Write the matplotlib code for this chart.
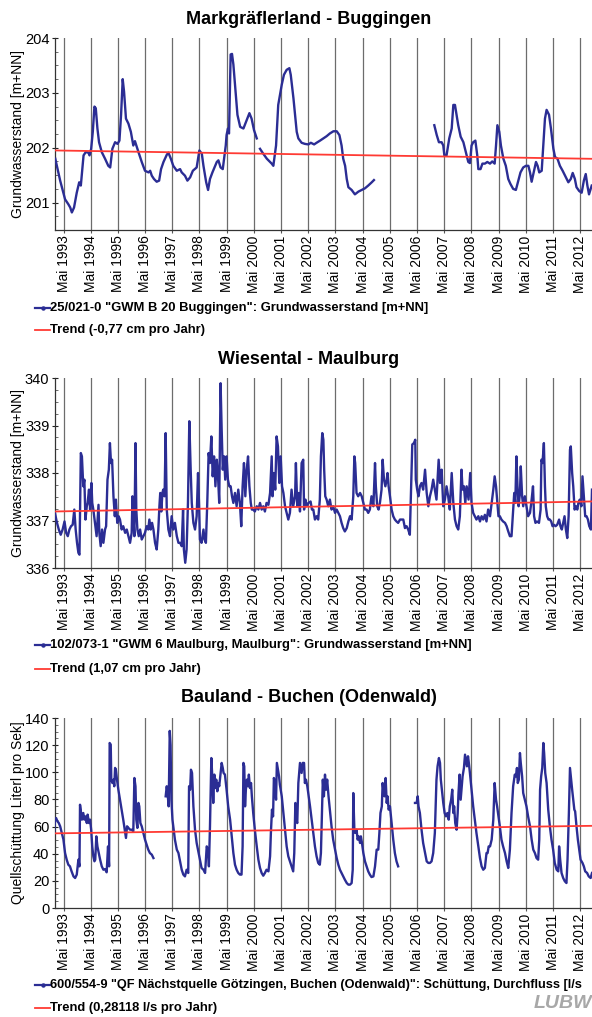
import numpy as np
import matplotlib
matplotlib.use("Agg")
import matplotlib.pyplot as plt
from matplotlib.lines import Line2D
from matplotlib.ticker import MultipleLocator

plt.rcParams['font.family'] = ['Liberation Sans', 'DejaVu Sans']

nan = np.nan

# ---------------- Data: Markgräflerland - Buggingen ----------------
bug_t = [1993.03, 1993.21, 1993.39, 1993.51, 1993.58, 1993.64, 1993.72, 1993.82, 1993.91, 1993.97,
         1994.07, 1994.15, 1994.25, 1994.29, 1994.35, 1994.41, 1994.47, 1994.52, 1994.58, 1994.64,
         1994.74, 1994.86, 1994.98, 1995.05, 1995.13, 1995.23, 1995.32, 1995.39, 1995.45, 1995.51,
         1995.56, 1995.63, 1995.72, 1995.81, 1995.90, 1995.96, 1996.03, 1996.09, 1996.21, 1996.33,
         1996.46, 1996.52, 1996.58, 1996.66, 1996.76, 1996.85, 1996.92, 1997.01, 1997.13, 1997.19,
         1997.28, 1997.37, 1997.50, 1997.62, 1997.68, 1997.80, 1997.89, 1997.99, 1998.09, 1998.23,
         1998.33, 1998.42, 1998.48, 1998.58, 1998.65, 1998.72, 1998.81, 1998.91, 1998.97, 1999.03,
         1999.11, 1999.19, 1999.24, 1999.30, 1999.33, 1999.38, 1999.42, 1999.48, 1999.53, 1999.58,
         1999.64, 1999.73, 1999.83, 1999.95, 2000.07, 2000.17, 2000.25, 2000.34, 2000.44, 2000.50,
         2000.56, 2000.68, 2000.81, 2000.99, 2001.05, 2001.15, 2001.23, 2001.36, 2001.44, 2001.54,
         2001.64, 2001.69, 2001.79, 2001.91, 2001.97, 2002.09, 2002.21, 2002.34, 2002.43, 2002.55,
         2002.64, 2002.77, 2002.89, 2003.01, 2003.13, 2003.26, 2003.38, 2003.48, 2003.56, 2003.62,
         2003.69, 2003.75, 2003.81, 2003.93, 2004.05, 2004.18, 2004.30, 2004.42, 2004.54, 2004.67,
         2004.75, 2005.80,
         2006.97, 2007.06, 2007.14, 2007.24, 2007.30, 2007.34, 2007.42, 2007.52, 2007.61, 2007.67,
         2007.73, 2007.79, 2007.85, 2007.94, 2008.04, 2008.13, 2008.22, 2008.28, 2008.34, 2008.40,
         2008.48, 2008.55, 2008.59, 2008.67, 2008.74, 2008.83, 2008.92, 2009.02, 2009.10, 2009.19,
         2009.24, 2009.29, 2009.36, 2009.42, 2009.51, 2009.60, 2009.69, 2009.77, 2009.87, 2009.97,
         2010.06, 2010.14, 2010.24, 2010.34, 2010.43, 2010.49, 2010.55, 2010.64, 2010.71, 2010.77,
         2010.83, 2010.92, 2010.98, 2011.04, 2011.10, 2011.19, 2011.26, 2011.35, 2011.41, 2011.50,
         2011.59, 2011.69, 2011.78, 2011.90, 2011.99, 2012.06, 2012.14, 2012.20, 2012.30, 2012.39,
         2012.47, 2012.54, 2012.60, 2012.66, 2012.76]
bug_v = [201.80, 201.40, 201.06, 200.97, 200.91, 200.82, 200.91, 201.18, 201.37, 201.31,
         201.86, 201.92, 201.91, 201.86, 201.98, 202.29, 202.75, 202.72, 202.35, 202.10,
         201.92, 201.80, 201.67, 201.64, 201.98, 202.10, 202.07, 202.13, 202.60, 203.25,
         203.02, 202.53, 202.44, 202.29, 202.04, 202.12, 202.01, 201.92, 201.74, 201.58,
         201.55, 201.58, 201.49, 201.43, 201.38, 201.40, 201.61, 201.74, 201.87, 201.91,
         201.80, 201.67, 201.58, 201.61, 201.55, 201.49, 201.40, 201.46, 201.58, 201.64,
         201.95, 201.89, 201.67, 201.37, 201.23, 201.43, 201.55, 201.67, 201.74, 201.77,
         201.64, 201.61, 201.80, 202.04, 202.23, 202.35, 202.26, 203.70, 203.71, 203.52,
         203.15, 202.60, 202.38, 202.35, 202.50, 202.63, 202.53, 202.32, 202.17, nan,
         201.98, 201.89, 201.80, 201.71, 201.67, 202.04, 202.78, 203.15, 203.33, 203.42,
         203.45, 203.33, 202.90, 202.29, 202.17, 202.09, 202.07, 202.06, 202.09, 202.06,
         202.09, 202.13, 202.17, 202.21, 202.26, 202.30, 202.30, 202.23, 202.04, 201.80,
         201.67, 201.43, 201.28, 201.23, 201.15, 201.20, 201.23, 201.26, 201.31, 201.37,
         201.41, nan,
         202.41, 202.23, 202.10, 202.10, 202.04, 201.86, 201.86, 202.17, 202.35, 202.78,
         202.78, 202.60, 202.41, 202.20, 202.10, 201.92, 201.74, 201.72, 202.04, 202.10,
         202.13, 201.86, 201.61, 201.61, 201.71, 201.71, 201.74, 201.71, 201.75, 201.71,
         202.04, 202.41, 202.29, 202.04, 201.80, 201.67, 201.43, 201.34, 201.25, 201.23,
         201.40, 201.55, 201.64, 201.67, 201.67, 201.55, 201.38, 201.58, 201.74, 201.67,
         201.55, 201.58, 202.04, 202.53, 202.69, 202.60, 202.35, 201.98, 201.83, 201.80,
         201.67, 201.58, 201.49, 201.37, 201.43, 201.54, 201.43, 201.28, 201.21, 201.18,
         201.40, 201.52, 201.31, 201.15, 201.31]

# ---------------- Data: Wiesental - Maulburg ----------------
mau_t = [1993.02, 1993.08, 1993.16, 1993.23, 1993.30, 1993.37, 1993.43, 1993.49, 1993.55, 1993.61,
         1993.67, 1993.73, 1993.78, 1993.83, 1993.88, 1993.92, 1993.97, 1994.01, 1994.06, 1994.10,
         1994.14, 1994.19, 1994.22, 1994.27, 1994.31, 1994.36, 1994.39, 1994.43, 1994.49, 1994.55,
         1994.62, 1994.65, 1994.70, 1994.75, 1994.80, 1994.86, 1994.90, 1994.95, 1995.00, 1995.04,
         1995.08, 1995.12, 1995.17, 1995.22, 1995.26, 1995.31, 1995.36, 1995.41, 1995.47, 1995.53,
         1995.60, 1995.66, 1995.72, 1995.78, 1995.84, 1995.87, 1995.90, 1995.94, 1995.98, 1996.01,
         1996.05, 1996.10, 1996.15, 1996.21, 1996.27, 1996.33, 1996.39, 1996.45, 1996.49, 1996.54,
         1996.59, 1996.64, 1996.70, 1996.76, 1996.82, 1996.86, 1996.89, 1996.93, 1996.97, 1997.00,
         1997.05, 1997.09, 1997.13, 1997.19, 1997.25, 1997.31, 1997.37, 1997.43, 1997.50, 1997.56,
         1997.62, 1997.68, 1997.73, 1997.76, 1997.81, 1997.86, 1997.91, 1997.96, 1998.01, 1998.05,
         1998.11, 1998.17, 1998.23, 1998.28, 1998.32, 1998.35, 1998.41, 1998.48, 1998.52, 1998.57,
         1998.62, 1998.67, 1998.72, 1998.77, 1998.82, 1998.87, 1998.92, 1998.97, 1999.01, 1999.06,
         1999.11, 1999.15, 1999.19, 1999.24, 1999.28, 1999.33, 1999.38, 1999.43, 1999.48, 1999.53,
         1999.58, 1999.64, 1999.70, 1999.76, 1999.82, 1999.87, 1999.92, 1999.97, 2000.02, 2000.07,
         2000.12, 2000.17, 2000.22, 2000.26, 2000.31, 2000.37, 2000.44, 2000.50, 2000.56, 2000.62,
         2000.68, 2000.74, 2000.80, 2000.87, 2000.93, 2000.99, 2001.02, 2001.07, 2001.12, 2001.17,
         2001.22, 2001.27, 2001.32, 2001.37, 2001.42, 2001.48, 2001.54, 2001.60, 2001.66, 2001.72,
         2001.78, 2001.85, 2001.88, 2001.93, 2001.99, 2002.03, 2002.09, 2002.15, 2002.18, 2002.23,
         2002.27, 2002.34, 2002.42, 2002.47, 2002.52, 2002.58, 2002.64, 2002.70, 2002.76, 2002.80,
         2002.85, 2002.89, 2002.92, 2002.96, 2003.01, 2003.07, 2003.13, 2003.19, 2003.25, 2003.32,
         2003.38, 2003.44, 2003.50, 2003.56, 2003.62, 2003.68, 2003.75, 2003.81, 2003.87, 2003.93,
         2003.99, 2004.03, 2004.06, 2004.11, 2004.17, 2004.24, 2004.30, 2004.36, 2004.42, 2004.48,
         2004.54, 2004.60, 2004.66, 2004.73, 2004.79, 2004.82, 2004.87, 2004.92, 2004.97, 2005.03,
         2005.07, 2005.12, 2005.17, 2005.22, 2005.25, 2005.29, 2005.34, 2005.40, 2005.46, 2005.52,
         2005.58, 2005.64, 2005.71, 2005.77, 2005.83, 2005.89, 2005.95, 2006.01, 2006.07, 2006.16,
         2006.22, 2006.27, 2006.29, 2006.34, 2006.39, 2006.44, 2006.50, 2006.56, 2006.63, 2006.69,
         2006.75, 2006.81, 2006.87, 2006.93, 2006.99, 2007.05, 2007.13, 2007.18, 2007.24, 2007.30,
         2007.36, 2007.42, 2007.48, 2007.54, 2007.61, 2007.67, 2007.73, 2007.79, 2007.85, 2007.91,
         2007.97, 2008.01, 2008.06, 2008.11, 2008.16, 2008.23, 2008.29, 2008.34, 2008.40, 2008.46,
         2008.52, 2008.59, 2008.65, 2008.71, 2008.77, 2008.83, 2008.89, 2008.95, 2009.02, 2009.08,
         2009.14, 2009.19, 2009.24, 2009.28, 2009.33, 2009.38, 2009.44, 2009.50, 2009.57, 2009.63,
         2009.69, 2009.75, 2009.81, 2009.87, 2009.91, 2009.95, 2009.99, 2010.03, 2010.07, 2010.12,
         2010.15, 2010.20, 2010.24, 2010.30, 2010.36, 2010.42, 2010.49, 2010.55, 2010.60, 2010.64,
         2010.69, 2010.75, 2010.82, 2010.88, 2010.91, 2010.95, 2011.00, 2011.04, 2011.07, 2011.12,
         2011.17, 2011.22, 2011.27, 2011.32, 2011.37, 2011.43, 2011.49, 2011.56, 2011.61, 2011.66,
         2011.71, 2011.76, 2011.81, 2011.86, 2011.91, 2011.96, 2011.99, 2012.04, 2012.08, 2012.13,
         2012.18, 2012.23, 2012.27, 2012.32, 2012.38, 2012.42, 2012.47, 2012.52, 2012.57, 2012.62,
         2012.67, 2012.73, 2012.77]
mau_v = [337.16, 336.98, 336.81, 336.70, 336.81, 336.98, 336.74, 336.67, 336.81, 336.88,
         336.91, 337.23, 336.81, 336.53, 336.32, 336.28, 338.42, 338.35, 337.72, 337.86,
         337.02, 337.30, 337.37, 337.65, 337.23, 337.79, 337.37, 337.23, 336.95, 336.67,
         337.33, 336.74, 336.46, 336.81, 336.53, 336.81, 336.88, 337.86, 338.07, 338.63,
         338.21, 338.28, 337.51, 337.09, 337.44, 336.95, 337.09, 337.02, 336.81, 336.88,
         336.74, 336.81, 336.67, 336.53, 336.74, 337.51, 337.09, 336.67, 338.63, 337.23,
         336.81, 336.67, 336.81, 336.60, 336.67, 336.74, 336.88, 336.81, 337.02, 336.81,
         336.95, 336.81, 336.53, 336.39, 336.81, 337.30, 337.58, 337.19, 337.58, 337.65,
         337.51, 338.84, 337.23, 336.81, 336.67, 337.09, 336.81, 336.95, 336.67, 336.53,
         336.53, 336.46, 337.23, 336.39, 336.11, 336.39, 337.37, 339.09, 338.07, 337.37,
         336.95, 336.81, 337.09, 338.00, 337.30, 336.60, 336.53, 336.81, 336.60, 336.53,
         337.37, 338.42, 338.21, 338.77, 337.93, 338.35, 337.72, 338.28, 338.00, 337.37,
         339.89, 338.91, 338.07, 338.35, 337.86, 338.35, 337.86, 337.72, 337.72, 337.51,
         337.37, 337.58, 337.30, 337.65, 337.37, 336.88, 337.72, 338.21, 337.51, 338.07,
         338.35, 337.72, 337.37, 337.23, 337.23, 337.19, 337.30, 337.23, 337.37, 337.23,
         337.30, 337.19, 337.37, 337.33, 337.58, 338.35, 337.51, 338.00, 337.65, 338.77,
         338.56, 337.79, 338.35, 337.72, 337.58, 337.30, 337.16, 337.02, 337.16, 337.65,
         337.30, 337.51, 338.21, 337.30, 337.58, 337.19, 338.21, 338.28, 337.23, 337.44,
         337.30, 337.37, 337.40, 337.23, 337.23, 337.02, 337.09, 337.02, 337.44, 338.35,
         338.84, 338.70, 338.07, 337.51, 337.44, 337.30, 337.44, 337.23, 337.30, 337.16,
         337.23, 337.16, 337.09, 336.95, 336.84, 336.77, 336.84, 336.98, 337.09, 337.02,
         337.51, 338.35, 338.21, 337.58, 337.51, 337.58, 337.51, 337.37, 337.23, 337.23,
         337.16, 337.23, 337.51, 337.30, 338.21, 337.72, 337.30, 337.23, 337.37, 337.65,
         338.28, 337.86, 337.72, 337.86, 338.00, 337.72, 337.51, 337.23, 337.09, 337.02,
         336.98, 336.95, 337.02, 337.02, 337.02, 336.84, 336.88, 336.81, 336.70, 338.60,
         338.63, 338.70, 337.86, 337.65, 337.51, 337.72, 337.79, 337.65, 338.07, 337.58,
         337.30, 337.51, 337.65, 337.86, 337.65, 337.44, 338.28, 337.79, 338.07, 337.30,
         337.44, 337.72, 337.51, 337.23, 338.00, 337.37, 337.02, 336.88, 336.81, 337.09,
         338.07, 337.65, 337.72, 337.37, 337.72, 337.44, 338.00, 337.37, 337.16, 337.09,
         337.02, 337.09, 336.98, 337.09, 337.02, 337.12, 336.98, 337.23, 337.09, 337.37,
         337.65, 337.93, 337.72, 337.44, 337.09, 337.09, 337.02, 336.98, 336.95, 336.88,
         336.77, 336.67, 336.67, 337.23, 337.58, 337.37, 338.35, 337.72, 337.30, 337.58,
         338.14, 337.51, 337.30, 337.51, 337.30, 337.09, 337.16, 337.44, 337.72, 337.09,
         336.95, 336.98, 336.95, 337.23, 338.28, 338.21, 338.63, 337.72, 337.30, 337.09,
         337.02, 337.02, 336.98, 336.88, 336.91, 336.88, 336.91, 337.02, 336.88, 336.81,
         336.95, 337.09, 336.81, 336.63, 337.09, 338.49, 338.56, 338.00, 337.72, 337.23,
         337.30, 337.23, 337.37, 337.44, 337.30, 337.93, 337.51, 337.09, 337.09, 337.02,
         336.88, 336.81, 337.65]

# ---------------- Data: Bauland - Buchen (Odenwald) ----------------
buc_t = [1992.99, 1993.02, 1993.06, 1993.11, 1993.16, 1993.21, 1993.27, 1993.33, 1993.39, 1993.45,
         1993.51, 1993.57, 1993.63, 1993.70, 1993.76, 1993.82, 1993.88, 1993.92, 1993.94, 1993.98,
         1994.01, 1994.06, 1994.10, 1994.14, 1994.19, 1994.22, 1994.27, 1994.31, 1994.35, 1994.39,
         1994.43, 1994.47, 1994.50, 1994.54, 1994.58, 1994.63, 1994.68, 1994.74, 1994.80, 1994.86,
         1994.92, 1994.97, 1995.01, 1995.03, 1995.07, 1995.09, 1995.13, 1995.17, 1995.20, 1995.23,
         1995.26, 1995.30, 1995.35, 1995.41, 1995.47, 1995.53, 1995.60, 1995.63, 1995.67, 1995.72,
         1995.78, 1995.84, 1995.90, 1995.94, 1995.98, 1996.01, 1996.05, 1996.09, 1996.12, 1996.16,
         1996.21, 1996.27, 1996.33, 1996.39, 1996.45, 1996.51, 1996.58, 1996.64, 1996.85,
         1997.09, 1997.13, 1997.16, 1997.20, 1997.24, 1997.27, 1997.30, 1997.34, 1997.37, 1997.43,
         1997.50, 1997.56, 1997.62, 1997.68, 1997.74, 1997.80, 1997.86, 1997.92, 1997.95, 1997.99,
         1998.02, 1998.06, 1998.11, 1998.17, 1998.23, 1998.29, 1998.35, 1998.41, 1998.48, 1998.54,
         1998.60, 1998.65, 1998.68, 1998.72, 1998.77, 1998.81, 1998.84, 1998.88, 1998.92, 1998.95,
         1998.99, 1999.03, 1999.06, 1999.11, 1999.15, 1999.19, 1999.22, 1999.27, 1999.33, 1999.39,
         1999.46, 1999.52, 1999.58, 1999.64, 1999.70, 1999.76, 1999.82, 1999.88, 1999.92, 1999.95,
         1999.98, 2000.01, 2000.04, 2000.08, 2000.12, 2000.15, 2000.19, 2000.23, 2000.26, 2000.31,
         2000.37, 2000.44, 2000.50, 2000.56, 2000.62, 2000.68, 2000.74, 2000.80, 2000.87, 2000.93,
         2000.96, 2001.00, 2001.04, 2001.07, 2001.11, 2001.15, 2001.18, 2001.22, 2001.26, 2001.29,
         2001.36, 2001.42, 2001.48, 2001.54, 2001.60, 2001.66, 2001.72, 2001.78, 2001.82, 2001.86,
         2001.89, 2001.93, 2001.97, 2002.00, 2002.03, 2002.09, 2002.13, 2002.18, 2002.21, 2002.25,
         2002.30, 2002.35, 2002.40, 2002.46, 2002.52, 2002.58, 2002.64, 2002.70, 2002.76, 2002.80,
         2002.84, 2002.87, 2002.91, 2002.95, 2002.99, 2003.03, 2003.08, 2003.13, 2003.19, 2003.25,
         2003.32, 2003.38, 2003.44, 2003.50, 2003.56, 2003.62, 2003.68, 2003.75, 2003.81, 2003.87,
         2003.93, 2003.97, 2003.99, 2004.03, 2004.06, 2004.11, 2004.15, 2004.19, 2004.24, 2004.27,
         2004.31, 2004.36, 2004.42, 2004.48, 2004.54, 2004.60, 2004.66, 2004.73, 2004.79, 2004.85,
         2004.91, 2004.95, 2004.99, 2005.04, 2005.07, 2005.11, 2005.14, 2005.18, 2005.22, 2005.25,
         2005.29, 2005.34, 2005.40, 2005.46, 2005.52, 2005.58, 2005.64, 2005.90,
         2006.26, 2006.32, 2006.36, 2006.39, 2006.44, 2006.50, 2006.56, 2006.63, 2006.69, 2006.75,
         2006.81, 2006.87, 2006.93, 2006.99, 2007.05, 2007.09, 2007.14, 2007.18, 2007.21, 2007.25,
         2007.30, 2007.35, 2007.40, 2007.45, 2007.50, 2007.54, 2007.59, 2007.63, 2007.67, 2007.70,
         2007.74, 2007.79, 2007.83, 2007.86, 2007.90, 2007.94, 2007.97, 2008.01, 2008.06, 2008.10,
         2008.13, 2008.17, 2008.21, 2008.24, 2008.28, 2008.34, 2008.40, 2008.46, 2008.52, 2008.59,
         2008.65, 2008.71, 2008.77, 2008.83, 2008.89, 2008.93, 2008.97, 2009.02, 2009.08, 2009.14,
         2009.19, 2009.24, 2009.28, 2009.33, 2009.38, 2009.44, 2009.50, 2009.57, 2009.63, 2009.69,
         2009.75, 2009.81, 2009.87, 2009.93, 2009.97, 2010.01, 2010.04, 2010.08, 2010.12, 2010.15,
         2010.20, 2010.24, 2010.30, 2010.36, 2010.42, 2010.49, 2010.55, 2010.61, 2010.67, 2010.73,
         2010.79, 2010.83, 2010.86, 2010.90, 2010.94, 2010.98, 2011.01, 2011.05, 2011.10, 2011.16,
         2011.22, 2011.28, 2011.34, 2011.40, 2011.47, 2011.53, 2011.56, 2011.60, 2011.65, 2011.71,
         2011.77, 2011.83, 2011.87, 2011.92, 2011.96, 2011.99, 2012.04, 2012.08, 2012.12, 2012.15,
         2012.20, 2012.25, 2012.30, 2012.35, 2012.42, 2012.47, 2012.52, 2012.59, 2012.65, 2012.72,
         2012.77]
buc_v = [56.5, 65.1, 66.3, 63.9, 62.6, 60.2, 55.3, 50.4, 40.5, 35.6,
         31.9, 30.7, 27.0, 23.3, 22.1, 24.6, 35.6, 30.7, 76.1, 70.0,
         65.1, 70.0, 65.1, 67.5, 62.6, 68.8, 62.6, 65.1, 57.7, 45.4,
         38.1, 34.4, 35.6, 52.8, 45.4, 40.5, 35.6, 30.7, 28.2, 28.7,
         26.3, 45.4, 30.7, 121.6, 120.4, 94.6, 92.1, 94.6, 89.7, 103.2,
         101.9, 94.6, 87.2, 79.8, 72.5, 65.1, 55.3, 51.6, 60.2, 59.0,
         57.7, 57.7, 56.5, 95.8, 89.7, 65.1, 59.0, 77.4, 74.9, 62.6,
         60.2, 55.3, 50.4, 46.7, 43.0, 40.5, 39.3, 36.8, nan,
         82.3, 89.7, 84.7, 74.9, 130.5, 120.0, 79.8, 65.1, 60.2, 50.4,
         43.0, 40.5, 34.4, 28.2, 24.6, 23.3, 28.2, 25.8, 89.7, 87.2,
         101.9, 99.5, 74.9, 57.7, 47.9, 41.8, 35.6, 29.5, 28.2, 25.8,
         45.4, 43.0, 30.7, 60.2, 110.5, 94.6, 77.4, 98.3, 88.4, 94.6,
         86.0, 92.1, 89.7, 99.5, 106.9, 103.2, 99.5, 98.3, 87.2, 74.9,
         65.1, 52.8, 40.5, 31.9, 28.2, 25.8, 24.6, 24.6, 45.4, 106.9,
         104.4, 74.9, 87.2, 94.6, 89.7, 98.3, 88.4, 92.1, 82.3, 70.0,
         57.7, 45.4, 35.6, 29.5, 25.8, 23.8, 25.8, 28.2, 27.0, 38.1,
         55.3, 72.5, 67.5, 95.8, 92.1, 79.8, 106.9, 101.9, 97.0, 90.9,
         82.3, 70.0, 57.7, 45.4, 38.1, 34.4, 30.7, 27.0, 40.5, 77.4,
         65.1, 62.6, 92.1, 99.5, 106.9, 99.5, 106.9, 106.9, 92.1, 94.6,
         89.7, 82.3, 74.9, 65.1, 55.3, 45.4, 38.1, 33.2, 31.9, 40.5,
         70.0, 94.6, 82.3, 98.3, 87.2, 94.6, 82.3, 72.5, 60.2, 50.4,
         43.0, 36.8, 31.9, 28.2, 25.8, 23.3, 20.9, 18.4, 17.2, 17.2,
         18.4, 28.2, 84.7, 57.7, 55.3, 57.7, 50.4, 52.8, 47.9, 52.8,
         47.9, 40.5, 34.4, 30.7, 27.0, 24.6, 22.8, 23.3, 30.7, 43.0,
         43.0, 55.3, 70.0, 74.9, 92.1, 84.7, 82.3, 95.8, 77.4, 82.3,
         72.5, 74.9, 62.6, 50.4, 40.5, 34.4, 30.7, nan,
         77.4, 77.4, 82.3, 74.9, 70.0, 57.7, 47.9, 40.5, 34.4, 33.2,
         33.2, 34.4, 40.5, 55.3, 94.6, 104.4, 110.5, 106.9, 94.6, 87.2,
         77.4, 70.0, 67.5, 70.0, 65.1, 74.9, 79.8, 87.2, 70.0, 74.9,
         62.6, 57.7, 70.0, 84.7, 98.3, 79.8, 87.2, 97.0, 103.2, 113.0,
         109.3, 104.4, 111.8, 106.9, 99.5, 87.2, 74.9, 65.1, 55.3, 45.4,
         36.8, 30.7, 28.2, 29.5, 40.5, 40.5, 45.4, 45.4, 50.4, 65.1,
         92.1, 79.8, 74.9, 67.5, 60.2, 50.4, 45.4, 40.5, 34.4, 29.5,
         43.0, 70.0, 89.7, 98.3, 97.0, 103.2, 92.1, 94.6, 114.2, 106.9,
         97.0, 84.7, 79.8, 74.9, 67.5, 60.2, 50.4, 43.0, 40.5, 36.8,
         35.6, 50.4, 87.2, 97.0, 103.2, 121.6, 114.2, 99.5, 92.1, 72.5,
         60.2, 50.4, 43.0, 33.2, 28.2, 27.0, 45.4, 35.6, 25.8, 22.1,
         19.7, 18.4, 35.6, 70.0, 103.2, 97.0, 87.2, 79.8, 72.5, 71.2,
         60.2, 50.4, 43.0, 35.6, 33.2, 30.7, 27.0, 25.8, 23.3, 22.1,
         25.8]

# ---------------- Trends (from legend slopes) ----------------
trend_start = [201.95, 337.19, 55.0]         # value at left edge
trend_slope = [-0.0077, 0.0107, 0.28118]     # units per year
years = list(range(1993, 2013))
tick_labels = [f"Mai {y}" for y in years]

titles = ["Markgräflerland - Buggingen", "Wiesental - Maulburg", "Bauland - Buchen (Odenwald)"]
ylabels = ["Grundwasserstand [m+NN]", "Grundwasserstand [m+NN]", "Quellschüttung Literl pro Sek]"]
legend1 = ['25/021-0 "GWM B 20 Buggingen": Grundwasserstand [m+NN]',
           '102/073-1 "GWM 6 Maulburg, Maulburg": Grundwasserstand [m+NN]',
           '600/554-9 "QF Nächstquelle Götzingen, Buchen (Odenwald)": Schüttung, Durchfluss [l/s']
legend2 = ["Trend (-0,77 cm pro Jahr)", "Trend (1,07 cm pro Jahr)", "Trend (0,28118 l/s pro Jahr)"]
legend1_size = [9.4, 9.4, 9.2]

series = [(bug_t, bug_v), (mau_t, mau_v), (buc_t, buc_v)]
ylims = [(200.5, 204.0), (336.0, 340.0), (0.0, 140.0)]
ymajor = [1, 1, 20]
yminor = [0.25, 0.25, 5]

# ---------------- Layout (pixels) ----------------
W, H = 592, 1017
fig = plt.figure(figsize=(W / 100, H / 100), dpi=100)
axes_px = [(38, 230), (378, 568), (718, 908)]   # top, bottom of each axes
title_y = [20, 360, 698]
leg_y = [(308, 330), (645, 669), (985, 1008)]
left_px = 55
XMIN, XMAX = 1993.02, 2012.77

BLUE = '#2b2d94'
RED = '#ff3a33'
GRID = '#6c6c6c'

for i in range(3):
    top, bot = axes_px[i]
    ax = fig.add_axes([left_px / W, 1 - bot / H, (W - left_px) / W, (bot - top) / H])
    t, v = series[i]
    ax.plot(t, v, color=BLUE, lw=1.7, zorder=3, solid_joinstyle='round')
    xs = np.array([XMIN, XMAX])
    ax.plot(xs, trend_start[i] + trend_slope[i] * (xs - XMIN), color=RED, lw=1.3, zorder=4)
    ax.set_xlim(XMIN, XMAX)
    ax.set_ylim(*ylims[i])
    ticks = [y + 4 / 12 for y in years]
    ax.set_xticks(ticks)
    ax.set_xticklabels(tick_labels, rotation=90, fontsize=10)
    ax.grid(axis='x', color=GRID, lw=0.9)
    ax.yaxis.set_major_locator(MultipleLocator(ymajor[i]))
    ax.yaxis.set_minor_locator(MultipleLocator(yminor[i]))
    ax.tick_params(axis='y', which='major', direction='inout', length=5, width=0.8,
                   labelsize=10.5, pad=1.5, colors='#222222', labelcolor='black')
    ax.tick_params(axis='y', which='minor', direction='in', length=2.5, width=0.6, colors='#555555')
    ax.tick_params(axis='x', which='major', direction='out', length=2, width=0.8,
                   pad=2, colors='#555555', labelcolor='black')
    for s in ['top', 'right']:
        ax.spines[s].set_visible(False)
    for s in ['left', 'bottom']:
        ax.spines[s].set_color('#333333')
        ax.spines[s].set_linewidth(0.9)
    ax.set_ylabel(ylabels[i], fontsize=10, labelpad=2)
    ax.yaxis.label.set_va('center')
    ax.yaxis.set_label_coords(-(left_px - 18.5) / (W - left_px), 0.5)
    ax.set_facecolor('none')

    fig.text(309 / W, 1 - title_y[i] / H, titles[i], ha='center', va='center',
             fontsize=13, fontweight='bold')
    ly1, ly2 = leg_y[i]
    fig.add_artist(Line2D([35 / W, 50 / W], [1 - ly1 / H] * 2, color=BLUE, lw=1.6,
                          transform=fig.transFigure))
    fig.add_artist(Line2D([42.5 / W], [1 - ly1 / H], color=BLUE, marker='o', ms=2.2,
                          transform=fig.transFigure))
    fig.text(50.5 / W, 1 - ly1 / H, legend1[i], ha='left', va='center', fontsize=legend1_size[i],
             fontweight='bold')
    fig.add_artist(Line2D([35 / W, 50 / W], [1 - ly2 / H] * 2, color=RED, lw=1.3,
                          transform=fig.transFigure))
    fig.text(50.5 / W, 1 - ly2 / H, legend2[i], ha='left', va='center', fontsize=9.4,
             fontweight='bold')

fig.text(563 / W, 1 - 1004 / H, "LUBW", ha='center', va='center', fontsize=14,
         fontweight='bold', fontstyle='italic', color='#a8a8a8')

fig.savefig("out.png", dpi=100)
